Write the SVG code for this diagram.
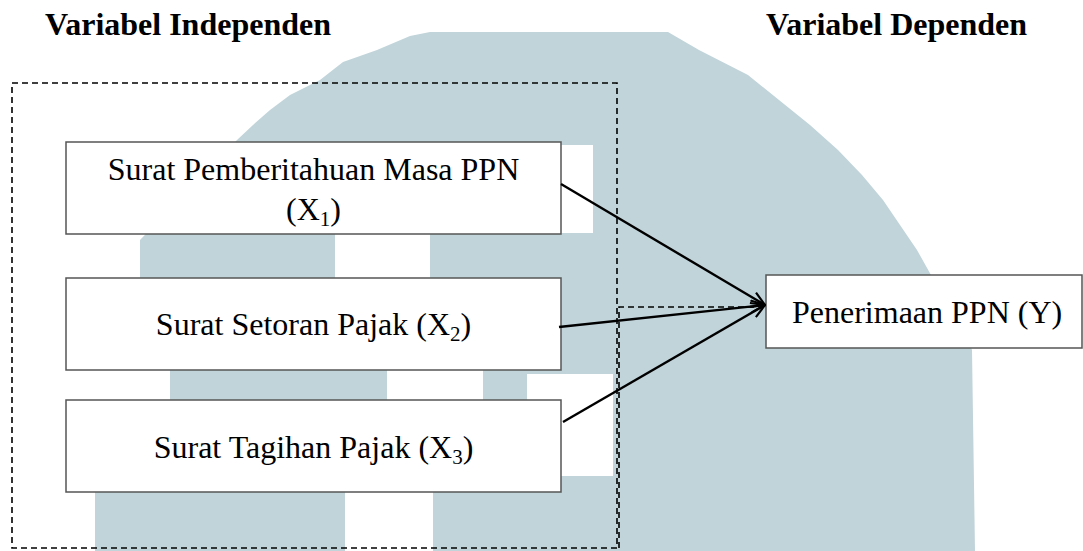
<svg xmlns="http://www.w3.org/2000/svg" width="1083" height="551" viewBox="0 0 1083 551">
<style>
.title{font-family:"Liberation Serif","Times New Roman",serif;font-weight:bold;font-size:32px;fill:#000}
.lbl{font-family:"Liberation Serif","Times New Roman",serif;font-size:32px;fill:#000}
.box{fill:#fff;stroke:#555;stroke-width:1.5}
.dash{fill:none;stroke:#000;stroke-width:1.6;stroke-dasharray:6 4}
.wm{fill:#c1d4da}
.hole{fill:#fff}
.edge{fill:none;stroke:#000;stroke-width:2.4}
</style>
<defs>
<marker id="arr" viewBox="0 0 16 14" refX="15" refY="7" markerWidth="16" markerHeight="14" markerUnits="userSpaceOnUse" orient="auto">
<path d="M1,1 L15,7 L1,13" fill="none" stroke="#000" stroke-width="2.2"/>
</marker>
</defs>
<rect width="1083" height="551" fill="#fff"/>
<g id="watermark">
<polygon class="wm" points="430,32 668,32 699,50 748,75 779,100 810,125 838,150 862,175 883,200 900,225 917,250 931,275 950,300 972,350 975,551 95,551 95,400 170,400 170,370 140,370 140,240 237,140 253,125 270,110 290,95 320,80 343,62 377,50 410,36"/>
<rect class="hole" x="335" y="234" width="95" height="44"/>
<rect class="hole" x="561" y="145" width="32" height="88"/>
<rect class="hole" x="387" y="370" width="96" height="30"/>
<rect class="hole" x="527" y="374" width="86" height="102"/>
<rect class="hole" x="345" y="492" width="88" height="59"/>
</g>
<g id="titles">
<text class="title" x="45" y="35">Variabel Independen</text>
<text class="title" x="766" y="35">Variabel Dependen</text>
</g>
<g id="group-independen">
<rect class="dash" x="12" y="83" width="605" height="465"/>
</g>
<g id="group-dependen">
<path class="dash" d="M619,548 V307 H758"/>
</g>
<g id="node-x1">
<rect class="box" x="66" y="142" width="495" height="92"/>
<text class="lbl" x="313.5" y="180" text-anchor="middle">Surat Pemberitahuan Masa PPN</text>
<text class="lbl" x="313.5" y="220" text-anchor="middle">(X<tspan font-size="21" dy="6">1</tspan><tspan dy="-6">)</tspan></text>
</g>
<g id="node-x2">
<rect class="box" x="66" y="278" width="495" height="92"/>
<text class="lbl" x="313.5" y="335" text-anchor="middle">Surat Setoran Pajak (X<tspan font-size="21" dy="6">2</tspan><tspan dy="-6">)</tspan></text>
</g>
<g id="node-x3">
<rect class="box" x="66" y="400" width="495" height="92"/>
<text class="lbl" x="313.5" y="458" text-anchor="middle">Surat Tagihan Pajak (X<tspan font-size="21" dy="6">3</tspan><tspan dy="-6">)</tspan></text>
</g>
<g id="node-y">
<rect class="box" x="766" y="275" width="316" height="73"/>
<text class="lbl" x="792" y="323">Penerimaan PPN (Y)</text>
</g>
<g id="connectors">
<line class="edge" x1="561" y1="184" x2="765" y2="305" marker-end="url(#arr)"/>
<line class="edge" x1="559" y1="327" x2="765" y2="305" marker-end="url(#arr)"/>
<line class="edge" x1="563" y1="422" x2="765" y2="305" marker-end="url(#arr)"/>
</g>
</svg>
